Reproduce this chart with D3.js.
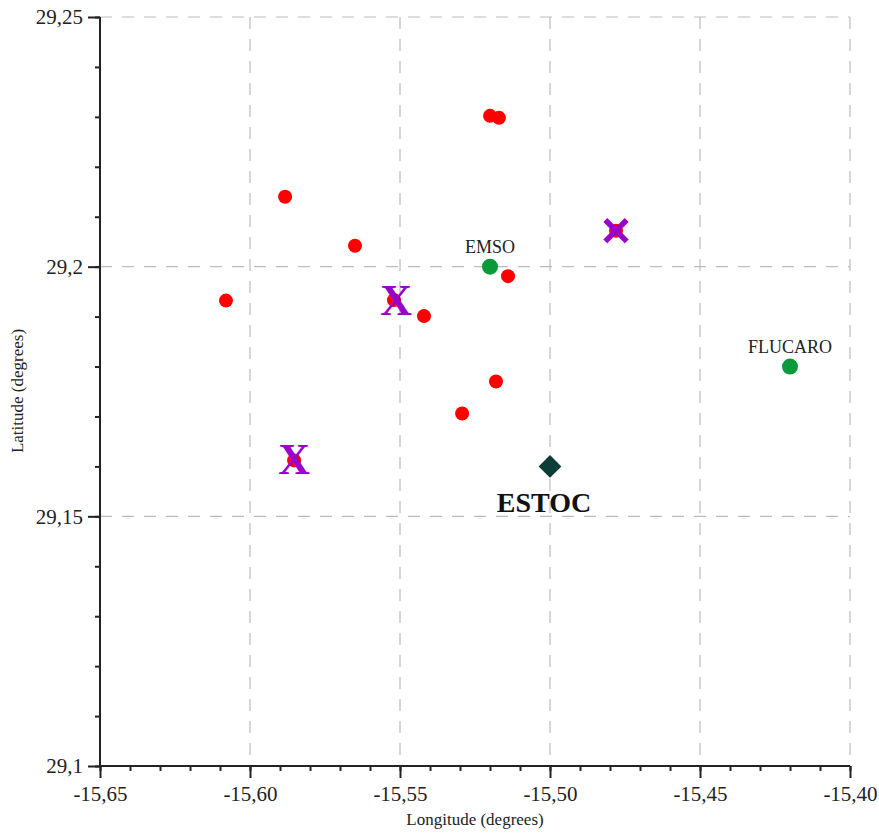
<!DOCTYPE html>
<html>
<head>
<meta charset="utf-8">
<script src="https://cdn.jsdelivr.net/npm/d3@7"></script>
<style>
  body { margin: 0; background: #fff; }
  text { font-family: "Liberation Serif", "Times New Roman", serif; }
  .tick text { font-size: 21px; fill: #222; }
</style>
</head>
<body>
<svg id="chart" width="879" height="834"></svg>
<script>
// red sample points
var redLon = [-15.520, -15.517, -15.5883, -15.565, -15.608, -15.552, -15.542, -15.514, -15.518, -15.5293, -15.5853, -15.478];
var redLat = [29.2302, 29.2298, 29.2140, 29.2042, 29.1932, 29.1933, 29.1901, 29.1981, 29.1770, 29.1706, 29.1612, 29.2072];

// purple X letters and cross marker
var xLetterLon = [-15.5853, -15.5513];
var xLetterLat = [29.1615, 29.1933];
var crossLon = [-15.478];
var crossLat = [29.2072];

// named stations
var stationNames = ["EMSO", "FLUCARO"];
var stationLon = [-15.52, -15.42];
var stationLat = [29.20, 29.18];
var estoc = { name: "ESTOC", lon: -15.50, lat: 29.16 };

var xTicks = [-15.65, -15.60, -15.55, -15.50, -15.45, -15.40];
var yTicks = [29.10, 29.15, 29.20, 29.25];

var svg = d3.select("#chart");

var x = d3.scaleLinear().domain([-15.65, -15.40]).range([100, 850]);
var y = d3.scaleLinear().domain([29.10, 29.25]).range([766, 17]);

var fmtX = function(d) { return d3.format(".2f")(d).replace("−", "-").replace(".", ","); };
var fmtY = function(d) { return (+d.toFixed(2)).toString().replace(".", ","); };

// dashed grid
svg.append("g").selectAll("line").data(xTicks.slice(1)).enter().append("line")
  .attr("x1", d => x(d)).attr("x2", d => x(d))
  .attr("y1", y(29.25)).attr("y2", y(29.10))
  .style("stroke", "#bbbbbb").style("stroke-width", 1.2).style("stroke-dasharray", "12,10");
svg.append("g").selectAll("line").data(yTicks.slice(1)).enter().append("line")
  .attr("x1", x(-15.65)).attr("x2", x(-15.40))
  .attr("y1", d => y(d)).attr("y2", d => y(d))
  .style("stroke", "#bbbbbb").style("stroke-width", 1.2).style("stroke-dasharray", "12,10");

// minor ticks
var xMinor = d3.range(26).map(i => -15.65 + i * 0.01);
var yMinor = d3.range(16).map(i => 29.10 + i * 0.01);

var xAxisMinor = svg.append("g").attr("transform", "translate(0," + y(29.10) + ")")
  .call(d3.axisBottom(x).tickValues(xMinor).tickSize(5).tickFormat(""));
var yAxisMinor = svg.append("g").attr("transform", "translate(" + x(-15.65) + ",0)")
  .call(d3.axisLeft(y).tickValues(yMinor).tickSize(5).tickFormat(""));

var xAxis = svg.append("g").attr("transform", "translate(0," + y(29.10) + ")")
  .call(d3.axisBottom(x).tickValues(xTicks).tickSize(12).tickPadding(8).tickFormat(fmtX));
var yAxis = svg.append("g").attr("transform", "translate(" + x(-15.65) + ",0)")
  .call(d3.axisLeft(y).tickValues(yTicks).tickSize(12).tickPadding(5).tickFormat(fmtY));

[xAxisMinor, yAxisMinor, xAxis, yAxis].forEach(function(g) {
  g.attr("font-family", "Liberation Serif").attr("font-size", 21);
  g.select(".domain").remove();
  g.selectAll("line").style("stroke", "#222").style("stroke-width", 2);
});

// axis lines
svg.append("line").attr("x1", x(-15.65)).attr("x2", x(-15.40)).attr("y1", y(29.10)).attr("y2", y(29.10))
  .style("stroke", "#222").style("stroke-width", 2);
svg.append("line").attr("x1", x(-15.65)).attr("x2", x(-15.65)).attr("y1", y(29.25)).attr("y2", y(29.10))
  .style("stroke", "#222").style("stroke-width", 2);

// axis titles
svg.append("text").attr("x", 475).attr("y", 825).attr("text-anchor", "middle")
  .style("font-size", "17px").style("fill", "#222").text("Longitude (degrees)");
svg.append("text").attr("transform", "translate(23,391) rotate(-90)").attr("text-anchor", "middle")
  .style("font-size", "17px").style("fill", "#222").text("Latitude (degrees)");

// red points
svg.append("g").selectAll("circle").data(redLon).enter().append("circle")
  .attr("cx", d => x(d)).attr("cy", (d, i) => y(redLat[i])).attr("r", 7)
  .style("fill", "#ff0000");

// purple X letters
svg.append("g").selectAll("text").data(xLetterLon).enter().append("text")
  .attr("x", d => x(d)).attr("y", (d, i) => y(xLetterLat[i]) + 15)
  .attr("text-anchor", "middle")
  .style("font-size", "44px").style("font-weight", "bold").style("fill", "#9900cc")
  .text("X");

// purple cross marker
svg.append("g").selectAll("path").data(crossLon).enter().append("path")
  .attr("transform", (d, i) => "translate(" + x(d) + "," + y(crossLat[i]) + ")")
  .attr("d", d3.symbol().type(d3.symbolTimes).size(300))
  .style("fill", "none").style("stroke", "#9900cc").style("stroke-width", 5.5);

// stations
svg.append("g").selectAll("circle").data(stationLon).enter().append("circle")
  .attr("cx", d => x(d)).attr("cy", (d, i) => y(stationLat[i])).attr("r", 8)
  .style("fill", "#0a9a3a");
svg.append("g").selectAll("text").data(stationNames).enter().append("text")
  .attr("x", (d, i) => x(stationLon[i])).attr("y", (d, i) => y(stationLat[i]) - 14)
  .attr("text-anchor", "middle")
  .style("font-size", "18px").style("fill", "#222").text(d => d);

// ESTOC
svg.append("path")
  .attr("transform", "translate(" + x(estoc.lon) + "," + y(estoc.lat) + ")")
  .attr("d", d3.symbol().type(d3.symbolDiamond2).size(330))
  .style("fill", "#0d3d38");
svg.append("text").attr("x", x(estoc.lon) - 6).attr("y", y(estoc.lat) + 46)
  .attr("text-anchor", "middle")
  .style("font-size", "28px").style("font-weight", "bold").style("fill", "#111").text(estoc.name);
</script>
</body>
</html>
